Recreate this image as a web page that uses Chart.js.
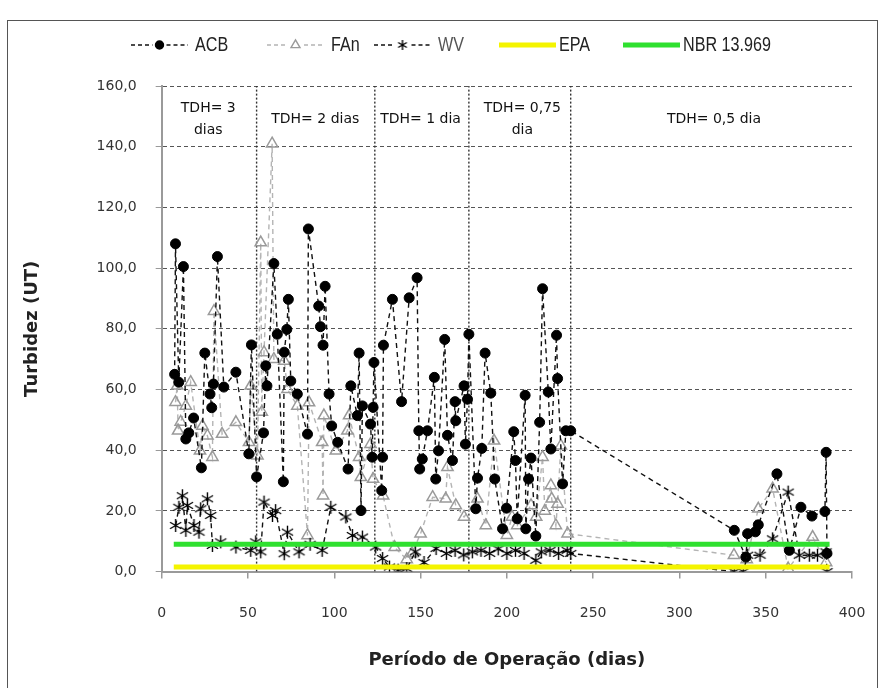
<!DOCTYPE html>
<html>
<head>
<meta charset="utf-8">
<script src="https://cdn.jsdelivr.net/npm/chart.js@4.4.0/dist/chart.umd.min.js"></script>
<style>
  html, body { margin: 0; padding: 0; background: #fff; }
  #wrap { position: relative; width: 885px; height: 688px; overflow: hidden; }
  #frame { position: absolute; left: 7px; top: 20px; width: 871px; height: 690px; border: 1.5px solid #555; box-sizing: border-box; }
  canvas { position: absolute; left: 0; top: 0; }
</style>
</head>
<body>
<div id="wrap">
  <div id="frame"></div>
  <canvas id="chart" width="885" height="688"></canvas>
</div>
<script>
// ---------------- Datos ----------------

const acbDays = [7.5, 8, 9.9, 12.6, 14, 15.7, 18.5, 23, 25, 28, 29, 30, 32.3, 36, 43, 50.5, 52, 55, 59, 60.3,
    61, 65, 67, 70.5, 71, 72.5, 73.4, 74.8, 78.6, 84.5, 85, 91, 92, 93.5, 94.7, 97, 98.5, 102, 108, 109.6,
    113.4, 114.4, 115.5, 116.3, 121, 122, 122.5, 123, 127.5, 128, 128.5, 133.7, 139, 143.4, 148, 149, 149.5, 151, 154, 158,
    158.8, 160.4, 164, 165.6, 168.5, 170, 170.4, 175.2, 176, 177.2, 178, 182, 183, 185.5, 187.4, 190.7, 193, 197.5, 199.8, 204,
    205, 206, 210.6, 211, 212.6, 214, 216.8, 219, 220.7, 224, 225.5, 228.8, 229.4, 232.3, 234.2, 237,
    331.8, 338.5, 339.5, 344, 345.7, 356.5, 363.7, 370.4, 376.8, 384.3, 385, 385.5];
const acbValues = [65, 108, 62.4, 100.5, 43.7, 45.7, 50.6, 34.2, 72, 58.5, 54, 61.8, 103.8, 60.8, 65.7, 38.8, 74.7, 31.2, 45.7, 67.8,
    61.2, 101.5, 78.2, 29.6, 72.3, 79.8, 89.7, 62.8, 58.5, 45.3, 112.9, 87.5, 80.7, 74.6, 94, 58.5, 48, 42.6, 33.8, 61.2,
    51.4, 72, 20.1, 54.6, 48.6, 37.7, 54.1, 68.9, 26.7, 37.7, 74.6, 89.7, 56, 90.2, 96.8, 46.4, 33.8, 37.1, 46.4, 64,
    30.5, 39.8, 76.5, 44.9, 36.6, 56, 49.7, 61.2, 42, 56.8, 78.2, 20.7, 30.8, 40.6, 72, 58.8, 30.5, 14.1, 20.9, 46.1,
    36.6, 17.4, 58.1, 14.1, 30.5, 37.4, 11.7, 49.2, 93.2, 59.2, 40.4, 77.9, 63.6, 28.9, 46.4, 46.4,
    13.6, 4.8, 12.5, 13.1, 15.4, 32.2, 7, 21.2, 18.3, 19.8, 39.3, 6];

const fanDays = [8, 9, 9.5, 11, 14, 16.8, 22.2, 23.6, 26.5, 29.4, 30.3, 35, 43, 50.6, 51.6, 55.5, 57.4, 58, 59.3, 64,
    65, 71, 72.9, 78.6, 84.5, 85.4, 93, 93.5, 94, 100.9, 107.6, 108.6, 114.4, 115.4, 121, 122.5, 128.3, 135, 142, 145,
    150, 157, 164.6, 165.6, 170.4, 175.2, 183, 187.8, 192.6, 200, 203, 206, 214, 217, 220.7, 222, 225.5, 226, 228.4, 229.4,
    231.3, 235.2, 331.6, 339, 345.7, 354, 363, 377.2, 385];
const fanValues = [55.8, 61.2, 46.4, 49.3, 54.6, 62.4, 39.8, 48, 44.8, 37.7, 85.8, 45.3, 49.2, 42.6, 61.2, 38.2, 108.4, 52.6, 72.2, 141,
    70, 69.4, 60.1, 54.6, 11.9, 55.7, 42.6, 25, 51.4, 39.8, 46.4, 51.4, 37.7, 31.1, 42, 30.5, 25, 8, 4, 6,
    12.5, 24.5, 24, 34.4, 21.8, 18, 24, 15.2, 43.1, 12, 18, 15.2, 21.8, 18, 37.7, 20, 28.4, 24, 15.2, 22.3,
    41.5, 12.5, 5.4, 4, 20.7, 27.3, 1, 11.4, 3];

const wvDays = [8.1, 10, 12, 14, 14.9, 18.7, 21.6, 22.6, 26.5, 28.4, 29.4, 34.2, 43, 51.6, 54.5, 57.4, 59.3, 64.2, 66, 71,
    72.9, 79.6, 86, 93, 98, 106.7, 110.5, 116.3, 124, 128, 132, 137, 142, 147, 152, 159, 165, 170, 175, 180,
    185, 190, 195, 200, 205, 210, 216.8, 220, 225, 230, 235, 237,
    331.8, 337, 339.5, 346.7, 354, 363, 369.5, 375.3, 380, 385, 385.5];
const wvValues = [15.2, 21.2, 25, 13.6, 21.8, 15.2, 13, 20.7, 24, 18.5, 8.6, 9.8, 8.1, 7, 9.8, 6.5, 22.9, 18.5, 20.1, 5.9,
    13, 6.5, 9, 7, 21.2, 18, 11.9, 11.4, 8.1, 4.3, 1.5, 0.5, 1, 6.5, 3, 7.6, 6, 7, 5.5, 6.5,
    7, 6, 7.5, 6, 7, 6, 3.7, 6.5, 7, 6, 7, 6,
    0, 0, 5.4, 5.4, 10.8, 26.2, 5.4, 5.4, 5.4, 6.5, 0];

// limites de referencia (UT) y su extension en dias
const epaValue = 1.5;
const nbrValue = 9;
const limitDays = [7, 387];

// separacion de fases de TDH (dias) y sus rotulos
const tdhBoundaries = [55, 123.5, 178, 237];
const tdhLabelDays = [27, 89, 150, 209, 320];
const tdhLabelTexts = [['TDH= 3', 'dias'], ['TDH= 2 dias'], ['TDH= 1 dia'], ['TDH= 0,75', 'dia'], ['TDH= 0,5 dia']];

const xTicks = [0, 50, 100, 150, 200, 250, 300, 350, 400];
const yTicks = [0, 20, 40, 60, 80, 100, 120, 140, 160];

// ---------------- Construccion ----------------

const toPoints = (xs, ys) => xs.map((x, i) => ({ x, y: ys[i] }));

// marcador asterisco de 6 puntas (como el de Excel)
function makeAsterisk(size, color) {
    const c = document.createElement('canvas');
    c.width = size; c.height = size;
    const g = c.getContext('2d');
    const m = size / 2, r = size / 2 - 1;
    g.strokeStyle = color;
    g.lineWidth = 1.4;
    g.beginPath();
    [90, 30, 150].forEach(a => {
        const rad = a * Math.PI / 180;
        g.moveTo(m - r * Math.cos(rad), m - r * Math.sin(rad));
        g.lineTo(m + r * Math.cos(rad), m + r * Math.sin(rad));
    });
    g.stroke();
    return c;
}
const asterisk = makeAsterisk(15, '#000');
const asteriskSmall = makeAsterisk(12, '#000');

const datasets = [
    {
        label: 'ACB', inLegend: true,
        data: toPoints(acbDays, acbValues),
        borderColor: '#111', borderWidth: 1.4, borderDash: [5, 4],
        pointStyle: 'circle', pointRadius: 5,
        pointBackgroundColor: '#000', pointBorderColor: '#000', pointBorderWidth: 1,
        order: 2
    },
    {
        label: 'FAn', inLegend: true,
        data: toPoints(fanDays, fanValues),
        borderColor: '#b4b4b4', borderWidth: 1.4, borderDash: [5, 4],
        pointStyle: 'triangle', pointRadius: 6.5,
        pointBackgroundColor: 'rgba(255,255,255,0)', pointBorderColor: '#9a9a9a', pointBorderWidth: 1.5,
        order: 3
    },
    {
        label: 'WV', inLegend: true, legendImage: asteriskSmall,
        data: toPoints(wvDays, wvValues),
        borderColor: '#111', borderWidth: 1.4, borderDash: [5, 4],
        pointStyle: asterisk, pointRadius: 7,
        order: 1
    },
    {
        label: 'EPA', inLegend: true,
        data: limitDays.map(d => ({ x: d, y: epaValue })),
        borderColor: '#f4f400', borderWidth: 5, pointRadius: 0,
        order: 0
    },
    {
        label: 'NBR 13.969', inLegend: true,
        data: limitDays.map(d => ({ x: d, y: nbrValue })),
        borderColor: '#2fe02f', borderWidth: 5, pointRadius: 0,
        order: 0
    },
    ...tdhBoundaries.map(d => ({
        label: '', inLegend: false,
        data: [{ x: d, y: yTicks[0] }, { x: d, y: yTicks.at(-1) }],
        borderColor: '#333', borderWidth: 1.4, borderDash: [2, 2], pointRadius: 0,
        order: 5
    }))
];

// ---------------- Plugin: rotulos TDH y leyenda ----------------

function drawSample(ctx, ds, x, y, w) {
    const r = ds.pointRadius || 0;
    ctx.save();
    ctx.strokeStyle = ds.borderColor;
    ctx.lineWidth = ds.borderWidth;
    ctx.setLineDash(r > 0 ? [4, 3] : []);
    ctx.beginPath();
    if (r > 0) {
        ctx.moveTo(x, y); ctx.lineTo(x + w / 2 - r - 2, y);
        ctx.moveTo(x + w / 2 + r + 2, y); ctx.lineTo(x + w, y);
    } else {
        ctx.moveTo(x, y); ctx.lineTo(x + w, y);
    }
    ctx.stroke();
    if (r > 0) {
        ctx.setLineDash([]);
        ctx.fillStyle = ds.pointBackgroundColor || '#000';
        ctx.strokeStyle = ds.pointBorderColor || '#000';
        Chart.helpers.drawPoint(ctx, {
            pointStyle: ds.legendImage || ds.pointStyle, rotation: 0,
            radius: r * 0.8, borderWidth: ds.pointBorderWidth || 1
        }, x + w / 2, y);
    }
    ctx.restore();
}

const overlayPlugin = {
    id: 'overlay',
    afterDraw(chart) {
        const { ctx, scales: { x, y } } = chart;

        // rotulos de fases
        ctx.save();
        ctx.fillStyle = '#111';
        ctx.font = '14px "DejaVu Sans"';
        ctx.textAlign = 'center';
        ctx.textBaseline = 'middle';
        tdhLabelDays.forEach((d, i) => {
            const lines = tdhLabelTexts[i];
            const cx = x.getPixelForValue(d);
            const cy = y.getPixelForValue(149);
            lines.forEach((t, j) => {
                ctx.fillText(t, cx, cy + (j - (lines.length - 1) / 2) * 22);
            });
        });
        ctx.restore();

        // leyenda
        const starts = [131, 267, 374, 499, 623];
        const legendY = 45;
        ctx.save();
        ctx.font = '19px "Liberation Sans", sans-serif';
        ctx.textBaseline = 'middle';
        chart.data.datasets.filter(ds => ds.inLegend).forEach((ds, i) => {
            const sx = starts[i];
            drawSample(ctx, ds, sx, legendY, 57);
            ctx.save();
            ctx.translate(sx + 57 + (ds.pointRadius ? 7 : 3), legendY + 1);
            ctx.scale(0.85, 1.05);
            ctx.fillStyle = ds.label === 'WV' ? '#555' : '#222';
            ctx.fillText(ds.label, 0, 0);
            ctx.restore();
        });
        ctx.restore();
    }
};

// ---------------- Grafica ----------------

const tickFont = { family: 'DejaVu Sans', size: 14 };
const titleFont = { family: 'DejaVu Sans', size: 18, weight: 'bold' };

new Chart(document.getElementById('chart'), {
    type: 'line',
    data: { datasets },
    options: {
        responsive: false,
        animation: false,
        events: [],
        layout: { padding: { left: 22, right: 33, top: 86, bottom: 10 } },
        elements: { line: { tension: 0, fill: false } },
        plugins: { legend: { display: false }, tooltip: { enabled: false } },
        scales: {
            x: {
                type: 'linear',
                min: xTicks[0], max: xTicks.at(-1),
                afterBuildTicks: axis => { axis.ticks = xTicks.map(v => ({ value: v })); },
                afterFit: axis => { axis.paddingLeft = 0; axis.paddingRight = 0; },
                ticks: { color: '#333', font: tickFont, padding: 26 },
                grid: { drawOnChartArea: false, color: '#999', lineWidth: 1.5, tickLength: 7 },
                border: { color: '#9a9a9a', width: 2 },
                title: {
                    display: true, text: 'Período de Operação (dias)', color: '#222', font: titleFont,
                    padding: { top: 2, bottom: 7 }
                }
            },
            y: {
                type: 'linear',
                min: yTicks[0], max: yTicks.at(-1),
                afterBuildTicks: axis => { axis.ticks = yTicks.map(v => ({ value: v })); },
                ticks: {
                    color: '#333', font: tickFont, padding: 19,
                    callback: v => v.toFixed(1).replace('.', ',')
                },
                grid: {
                    color: c => (c.tick && c.tick.value === 0) ? 'rgba(0,0,0,0)' : '#555',
                    lineWidth: 1, tickLength: 6, tickColor: '#999', tickBorderDash: []
                },
                border: { color: '#9a9a9a', width: 2, dash: [4, 3] },
                title: {
                    display: true, text: 'Turbidez (UT)', color: '#222', font: titleFont,
                    padding: { top: 0, bottom: 34 }
                }
            }
        }
    },
    plugins: [overlayPlugin]
});
</script>
</body>
</html>
